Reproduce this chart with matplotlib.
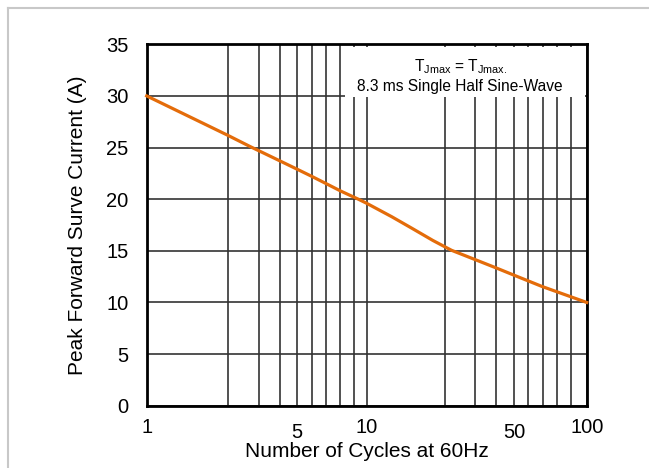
import matplotlib.pyplot as plt
from matplotlib.ticker import FixedLocator, FuncFormatter
from matplotlib.lines import Line2D
from matplotlib.patches import Rectangle

plt.rcParams['font.family'] = ['Liberation Sans', 'DejaVu Sans']

# curve (x in cycles, y in A)
cycles = [1, 2.33, 2.95, 4.04, 4.83, 5.64, 6.55, 7.6, 9.16, 10, 13, 16, 20, 24.3, 31.1, 38.7, 46.6, 62.6, 100]
current = [30, 26.2, 25.1, 23.7, 22.9, 22.2, 21.5, 20.8, 20.0, 19.6, 18.3, 17.2, 16.0, 15.05, 14.15, 13.35, 12.65, 11.55, 10]

# vertical grid lines as drawn on the sheet (not exactly at 2..9)
major_x = [1, 10, 100]
minor_x = [2.33, 3.23, 4.04, 4.83, 5.64, 6.55, 7.6, 8.79,
           22.6, 31.0, 38.8, 46.7, 54.3, 63.0, 73.1, 84.5]
minor_labels = {4.83: '5', 46.7: '50'}
y_ticks = [0, 5, 10, 15, 20, 25, 30, 35]

fig = plt.figure(figsize=(6.49, 4.68), dpi=100)
ax = fig.add_axes([146.7/649, 1-405.7/468, (586.7-146.7)/649, (405.7-44.3)/468])

ax.plot(cycles, current, color='#E46C0A', lw=2.3, zorder=3, clip_on=False)

ax.set_xscale('log')
ax.set_xlim(1, 100)
ax.set_ylim(0, 35)
ax.xaxis.set_major_locator(FixedLocator(major_x))
ax.xaxis.set_minor_locator(FixedLocator(minor_x))
ax.xaxis.set_major_formatter(FuncFormatter(lambda v, p: '%g' % v))


def minor_fmt(v, p):
    for k, s in minor_labels.items():
        if abs(v - k) < 0.01:
            return s
    return ''


ax.xaxis.set_minor_formatter(FuncFormatter(minor_fmt))
ax.set_yticks(y_ticks)

ax.tick_params(which='both', length=0, labelsize=14.5)
ax.tick_params(axis='x', which='major', pad=8.5)
ax.tick_params(axis='x', which='minor', pad=12.5)
ax.tick_params(axis='y', pad=13)

ax.grid(True, which='both', axis='x', color='#333333', lw=1.2)
ax.grid(True, which='major', axis='y', color='#333333', lw=1.2)
ax.set_axisbelow(True)
for s in ax.spines.values():
    s.set_linewidth(2)
    s.set_color('black')

ax.set_xlabel('Number of Cycles at 60Hz', fontsize=15, labelpad=0)
ax.set_ylabel('Peak Forward Surve Current (A)', fontsize=15, labelpad=14)

# white label box over the grid
fig.add_artist(Rectangle((345/649, 1-97/468), 240/649, 50/468, transform=fig.transFigure,
                         facecolor='white', edgecolor='none'))
fig.text(461/649, 1-67/468, r'T$_{\mathregular{Jmax}}$ = T$_{\mathregular{Jmax.}}$',
         ha='center', va='center', fontsize=11.2)
fig.text(460/649, 1-86/468, '8.3 ms Single Half Sine-Wave', ha='center', va='center', fontsize=11.2)

# light frame on left and top
fig.add_artist(Line2D([8/649, 8/649], [0, 1-8/468], color='#c8c8c8', lw=1.5, transform=fig.transFigure))
fig.add_artist(Line2D([8/649, 1], [1-8/468, 1-8/468], color='#c8c8c8', lw=1.5, transform=fig.transFigure))

fig.savefig('out.png', dpi=100)
